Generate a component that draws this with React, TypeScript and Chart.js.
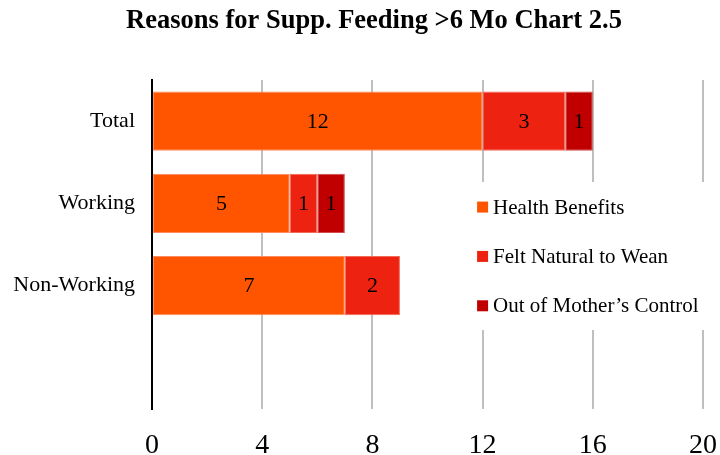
import { useEffect, useRef } from 'react';
import { Chart, registerables } from 'chart.js';

Chart.register(...registerables);

const title = 'Reasons for Supp. Feeding >6 Mo Chart 2.5';
const categories = ['Total', 'Working', 'Non-Working', ''];
const seriesNames = ['Health Benefits', 'Felt Natural to Wean', 'Out of Mother\u2019s Control'];
const healthBenefits = [12, 5, 7];
const feltNatural = [3, 1, 2];
const outOfControl = [1, 1, null];
const xTicks = [0, 4, 8, 12, 16, 20];
const colors = ['#FF5500', '#EE2211', '#C00000'];
const edgeColors = ['#FF8A5E', '#F26A58', '#D24A4A'];

const SERIF = '"Liberation Serif", "Times New Roman", serif';

const titlePlugin = {
  id: 'customTitle',
  afterDraw(chart: any) {
    const ctx = chart.ctx;
    ctx.save();
    ctx.font = `bold 26.5px ${SERIF}`;
    ctx.fillStyle = '#000';
    ctx.textAlign = 'center';
    ctx.textBaseline = 'middle';
    ctx.fillText(title, 374, 21);
    ctx.restore();
  },
};

const dataLabelPlugin = {
  id: 'dataLabels',
  afterDatasetsDraw(chart: any) {
    const ctx = chart.ctx;
    ctx.save();
    ctx.font = `22px ${SERIF}`;
    ctx.fillStyle = '#000';
    ctx.textAlign = 'center';
    ctx.textBaseline = 'middle';
    chart.data.datasets.forEach((ds: any, di: number) => {
      const meta = chart.getDatasetMeta(di);
      meta.data.forEach((el: any, i: number) => {
        const v = ds.data[i];
        if (v === null || v === undefined || v === 0) return;
        const p = el.getProps(['x', 'y', 'base'], true);
        ctx.fillText(String(v), (p.x + p.base) / 2, p.y + 1);
      });
    });
    ctx.restore();
  },
};

const legendPlugin = {
  id: 'insideLegend',
  afterDraw(chart: any) {
    const ctx = chart.ctx;
    const area = chart.chartArea;
    const xs = chart.scales.x;
    const ys = chart.scales.y;
    ctx.save();
    const left = xs.getPixelForValue(11.45);
    const top = ys.getPixelForValue(0.74);
    const bottom = ys.getPixelForValue(2.54);
    ctx.fillStyle = '#fff';
    ctx.fillRect(left, top, area.right + 14 - left, bottom - top);
    ctx.font = `21px ${SERIF}`;
    ctx.textBaseline = 'middle';
    ctx.textAlign = 'left';
    const startY = ys.getPixelForValue(1.045);
    const step = ys.getPixelForValue(1.645) - startY;
    const boxX = xs.getPixelForValue(11.8);
    seriesNames.forEach((name, i) => {
      const cy = startY + i * step;
      ctx.fillStyle = colors[i];
      ctx.fillRect(boxX, cy - 5.5, 11, 11);
      ctx.fillStyle = '#000';
      ctx.fillText(name, boxX + 16, cy + 1);
    });
    ctx.restore();
  },
};

export default function App() {
  const ref = useRef<HTMLCanvasElement | null>(null);
  useEffect(() => {
    if (!ref.current) return;
    const series = [healthBenefits, feltNatural, outOfControl];
    const chart = new Chart(ref.current, {
      type: 'bar',
      data: {
        labels: categories,
        datasets: series.map((d, i) => ({
          label: seriesNames[i],
          data: d as any,
          backgroundColor: colors[i],
          borderColor: edgeColors[i],
          borderWidth: 1,
          borderSkipped: false,
          categoryPercentage: 0.8,
          barPercentage: 0.9,
        })),
      },
      options: {
        indexAxis: 'y',
        animation: false,
        responsive: false,
        maintainAspectRatio: false,
        layout: { padding: { left: 0, right: 17, top: 80, bottom: 0 } },
        plugins: {
          legend: { display: false },
          tooltip: { enabled: false },
          title: { display: false },
        },
        scales: {
          x: {
            stacked: true,
            min: 0,
            max: 20,
            afterBuildTicks: (scale: any) => {
              scale.ticks = xTicks.map((v) => ({ value: v }));
            },
            afterFit: (scale: any) => {
              scale.height = 46;
              scale.paddingRight = 0;
              scale.paddingLeft = 0;
            },
            grid: { color: '#BFBFBF', lineWidth: 2, drawTicks: false },
            border: { display: false },
            ticks: {
              color: '#000',
              font: { family: SERIF, size: 28 },
              padding: 20,
              maxRotation: 0,
            },
          },
          y: {
            stacked: true,
            afterFit: (scale: any) => {
              scale.width = 152;
            },
            grid: { display: false, drawTicks: false },
            border: { display: true, color: '#000', width: 2 },
            ticks: {
              color: '#000',
              font: { family: SERIF, size: 22 },
              padding: 17,
            },
          },
        },
      },
      plugins: [dataLabelPlugin, legendPlugin, titlePlugin],
    });
    return () => chart.destroy();
  }, []);
  return (
    <div style={{ position: 'absolute', left: 0, top: 0, width: 720, height: 455, background: '#fff' }}>
      <canvas ref={ref} width={720} height={455} style={{ display: 'block', width: 720, height: 455 }} />
    </div>
  );
}
